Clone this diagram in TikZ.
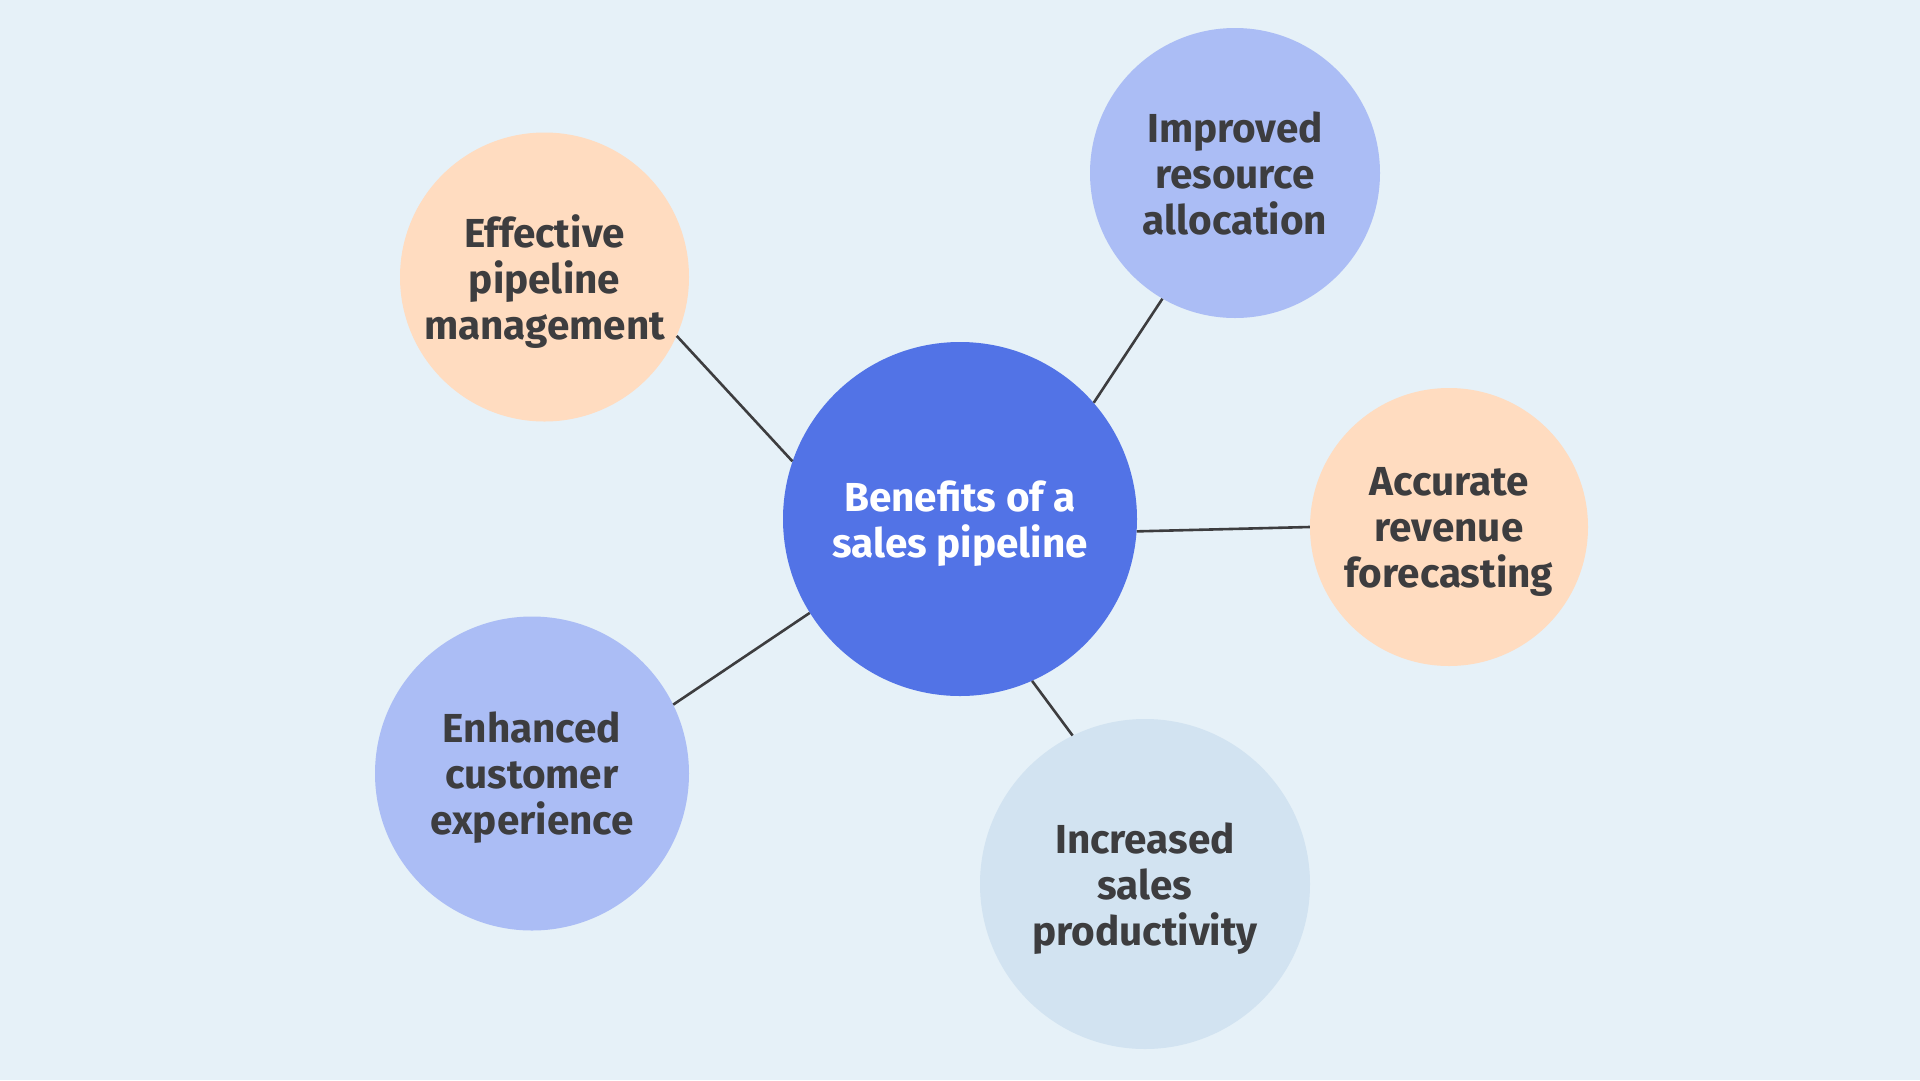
\documentclass[tikz,border=0pt]{standalone}
\usepackage{fontspec}
\setmainfont{Fira Sans}
\usepackage{xcolor}
\definecolor{bgblue}{HTML}{E6F1F8}
\definecolor{hubblue}{HTML}{5273E6}
\definecolor{peach}{HTML}{FFDCC0}
\definecolor{lavender}{HTML}{ABBDF5}
\definecolor{paleblue}{HTML}{D2E3F1}
\definecolor{inkgray}{HTML}{3D3D3F}

\begin{document}
\begin{tikzpicture}[x=1pt,y=-1pt,
                bubble/.style={
                  circle, draw=none, fill=#1, inner sep=0pt, align=center, text depth=0pt,
                  text=inkgray, font=\fontsize{40.5}{46}\selectfont\bfseries
                },
                bubble/.default=peach,
                hub/.style={bubble=hubblue, text=white, minimum size=354pt},
                link/.style={draw=inkgray, line width=2.6pt}
                ]
                \fill[bgblue] (0,0) rectangle (1920,1080);
                \useasboundingbox (0,0) rectangle (1920,1080);
                % centre and the five benefits
                \node [hub] (hub) at (960,519) {Benefits of a\\sales pipeline};
                \node [bubble=peach, minimum size=289pt] (eff) at (544.5,277) {Effective\\pipeline\\management};
                \node [bubble=lavender, minimum size=290pt] (imp) at (1235,173) {Improved\\resource\\allocation};
                \node [bubble=peach, minimum size=278pt] (acc) at (1449,527) {Accurate\\revenue\\forecasting};
                \node [bubble=lavender, minimum size=314pt] (enh) at (532,773.5) {Enhanced\\customer\\experience};
                \node [bubble=paleblue, minimum size=330pt] (inc) at (1145,884) {Increased\\sales\\productivity};
                % spokes
                \draw [link] (hub.161.7) -- (eff.-24.3);
                \draw [link] (hub.41.05) -- (imp.240.7);
                \draw [link] (hub.-4.5) -- (acc.180);
                \draw [link] (hub.212.3) -- (enh.26.4);
                \draw [link] (hub.294.4) -- (inc.116.4);
\end{tikzpicture}
\end{document}
